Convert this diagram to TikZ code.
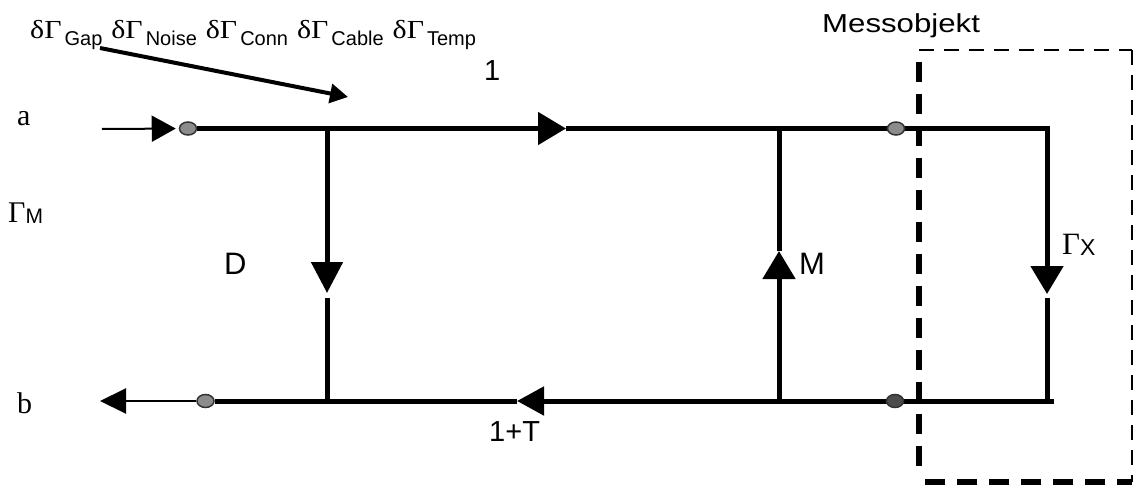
\documentclass[tikz,border=0pt]{standalone}
\usepackage{fontspec}
\setmainfont{Liberation Serif}
\setsansfont{Liberation Sans}
\usetikzlibrary{arrows.meta,shapes.geometric,backgrounds}
\newcommand{\dGam}[1]{\scalebox{1.15}[1]{\fontsize{26}{26}\selectfont δΓ}\hspace{3pt}\raisebox{-7pt}{\sffamily\fontsize{20}{20}\selectfont #1}}
\begin{document}
\begin{tikzpicture}[x=1pt,y=-1pt,
  wire/.style={line width=5pt},
  thinwire/.style={line width=2pt},
  term/.style={ellipse, draw=black!80, line width=1.5pt, fill=black!45, minimum width=17pt, minimum height=13pt, inner sep=0pt},
  lab/.style={font=\sffamily\fontsize{31}{31}\selectfont, inner sep=0pt, anchor=base west},
  serlab/.style={font=\fontsize{30}{30}\selectfont, inner sep=0pt, anchor=base west},
  bigtip/.style={-{Triangle[length=28pt,width=32pt]}},
  dashthick/.style={line width=5.5pt, dash pattern=on 20pt off 12pt},
  dashthin/.style={line width=2pt, dash pattern=on 15pt off 10pt}]
\useasboundingbox (0,0) rectangle (1133,487);

% terminals
\node[term] (tA) at (188,128.5) {};
\node[term] (tB) at (205.5,401) {};
\node[term] (tC) at (896,128.5) {};
\node[term, fill=black!70] (tE) at (895,401) {};

% junctions and arrow points
\coordinate (jD1) at (327,128.5);
\coordinate (jD2) at (327,401);
\coordinate (jM1) at (779,128.5);
\coordinate (jM2) at (779,401);
\coordinate (jX1) at (1047,128.5);
\coordinate (jX2) at (1047,401);
\coordinate (topEnd) at (1049.5,128.5);
\coordinate (botEnd) at (1054,401);
\coordinate (aTop) at (566,128.5);
\coordinate (aBot) at (517,401);
\coordinate (dTip) at (327,293);
\coordinate (dRes) at (327,298);
\coordinate (mTip) at (779,251);
\coordinate (xTip) at (1047,294);
\coordinate (xRes) at (1047,298);
\coordinate (xTop) at (1047,131);
\coordinate (inS) at (102,129);
\coordinate (outE) at (100,401);

\begin{pgfonlayer}{background}
\draw[wire, bigtip] (tA) -- (aTop);
\draw[wire] (aTop) -- (topEnd);
\draw[wire, bigtip] (xTop) -- (xTip);
\draw[wire] (xRes) -- (jX2);
\draw[wire, -{Triangle[length=27pt,width=28pt]}] (botEnd) -- (aBot);
\draw[wire] (aBot) -- (tB);
\draw[wire, -{Triangle[length=31pt,width=31pt]}] (jD1) -- (dTip);
\draw[wire] (dRes) -- (jD2);
\draw[wire, bigtip] (jM2) -- (mTip);
\draw[wire] (mTip) -- (jM1);
\end{pgfonlayer}

\draw[thinwire, -{Triangle[length=24pt,width=26pt]}, shorten >=3pt] (inS) -- (tA);
\draw[thinwire, -{Triangle[length=26pt,width=25pt]}] (tB) -- (outE);

% Messobjekt box
\coordinate (mbTL) at (919,50);
\coordinate (mbTR) at (1131.5,50);
\coordinate (mbBR) at (1131.5,482);
\coordinate (mbBL) at (919,482);
\draw[dashthick] (919,62) -- (919,474);
\draw[dashthick] (925,482) -- (mbBR);
\draw[dashthin] (mbTL) -- (mbTR);
\draw[dashthin] (mbTR) -- (mbBR);

% top text and arrow
\node[inner sep=0pt, anchor=base west] (dtext) at (30,39) {\dGam{Gap}\hspace{9pt}\dGam{Noise}\hspace{9pt}\dGam{Conn}\hspace{9pt}\dGam{Cable}\hspace{9pt}\dGam{Temp}};
\coordinate (arS) at (100,48);
\coordinate (arE) at (348,97);
\draw[line width=4pt, -{Triangle[length=18pt,width=19pt]}] (arS) -- (arE);

% labels
\node[lab, font=\sffamily\fontsize{26}{26}\selectfont] (mlab) at (822,33) {\scalebox{1.2}[1]{Messobjekt}};
\node[lab, font=\sffamily\fontsize{29}{29}\selectfont] (one) at (484,81) {1};
\node[lab, font=\sffamily\fontsize{29}{29}\selectfont] (oneT) at (489,441) {1+T};
\node[lab] (Dl) at (224,274) {D};
\node[lab] (Ml) at (799,274) {M};
\node[serlab] (al) at (17,125) {a};
\node[serlab] (bl) at (17,413) {b};
\node[inner sep=0pt, anchor=base west] (GM) at (8,222) {\fontsize{30}{30}\selectfont Γ\raisebox{-1pt}{\sffamily\fontsize{21}{21}\selectfont M}};
\node[inner sep=0pt, anchor=base west] (GX) at (1062,254) {\fontsize{31}{31}\selectfont Γ\raisebox{-1pt}{\sffamily\fontsize{23}{23}\selectfont X}};
\end{tikzpicture}
\end{document}
